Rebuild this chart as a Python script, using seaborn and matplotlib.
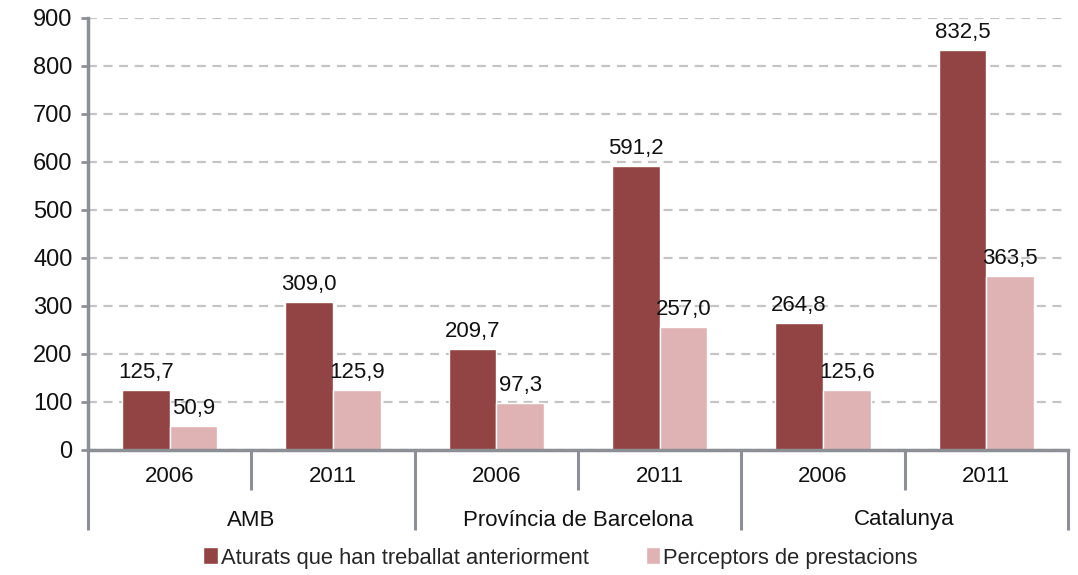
import matplotlib
matplotlib.use("Agg")
import matplotlib.pyplot as plt
import seaborn as sns
import pandas as pd
import numpy as np

groups = ["AMB", "Província de Barcelona", "Catalunya"]
years = ["2006", "2011"]
series = ["Aturats que han treballat anteriorment", "Perceptors de prestacions"]
aturats = [125.7, 309.0, 209.7, 591.2, 264.8, 832.5]
perceptors = [50.9, 125.9, 97.3, 257.0, 125.6, 363.5]
yticks = [0, 100, 200, 300, 400, 500, 600, 700, 800, 900]

colors = ["#924444", "#DFB3B3"]
axis_gray = "#8C9096"
FS = 16

cats = [f"{g}|{y}" for g in groups for y in years]
df = pd.DataFrame({
    "cat": cats * 2,
    "value": aturats + perceptors,
    "serie": [series[0]] * 6 + [series[1]] * 6,
})

sns.set_theme(style="white")
plt.rcParams["font.family"] = ["Liberation Sans", "DejaVu Sans"]

fig = plt.figure(figsize=(10.78, 5.75), dpi=100)
ax = fig.add_axes([88/1078, 1 - 450/575, (1068-88)/1078, 432/575])

sns.barplot(data=df, x="cat", y="value", hue="serie", order=cats,
            hue_order=series, palette=colors, width=0.585, gap=0,
            saturation=1, ax=ax, legend=True)

for cont in ax.containers:
    ax.bar_label(cont, fmt=lambda v: f"{v:.1f}".replace(".", ","),
                 padding=5, fontsize=FS, color="#111111")

ax.set_ylim(0, 900)
ax.set_xlim(-0.5, 5.5)
ax.set_yticks(yticks)
ax.set_yticklabels([str(t) for t in yticks], fontsize=17, color="#111111")
ax.set_xticks([])
ax.set_xlabel("")
ax.set_ylabel("")
ax.yaxis.grid(True, linestyle=(0, (4, 3)), color="#C4C4C4", linewidth=1.6)
ax.set_axisbelow(True)
ax.tick_params(axis="y", length=5, width=2, color=axis_gray, pad=6, left=True)

for s in ["top", "right"]:
    ax.spines[s].set_visible(False)
ax.spines["left"].set_color(axis_gray)
ax.spines["left"].set_linewidth(2.5)
ax.spines["bottom"].set_color(axis_gray)
ax.spines["bottom"].set_linewidth(2.5)

trans = ax.get_xaxis_transform()
short = -40/432
long_ = -80/432
for i in range(7):
    xpos = i - 0.5
    yend = long_ if i % 2 == 0 else short
    ax.plot([xpos, xpos], [0, yend], transform=trans, color=axis_gray,
            linewidth=2.2, clip_on=False, solid_capstyle="butt")

for i, c in enumerate(cats):
    ax.text(i, -27/432, c.split("|")[1], transform=trans, ha="center",
            va="center", fontsize=FS, color="#111111")
for j, g in enumerate(groups):
    ax.text(2*j + 0.5, -70/432, g, transform=trans, ha="center",
            va="center", fontsize=FS, color="#111111")

handles, labels = ax.get_legend_handles_labels()
ax.get_legend().remove()
fig.legend(handles, labels, loc="center", bbox_to_anchor=(0.52, 1 - 558/575),
           ncol=2, frameon=False, fontsize=15.8, handlelength=0.65,
           handleheight=0.8, handletextpad=0.15, columnspacing=2.6)

fig.savefig("out.png", dpi=100)
